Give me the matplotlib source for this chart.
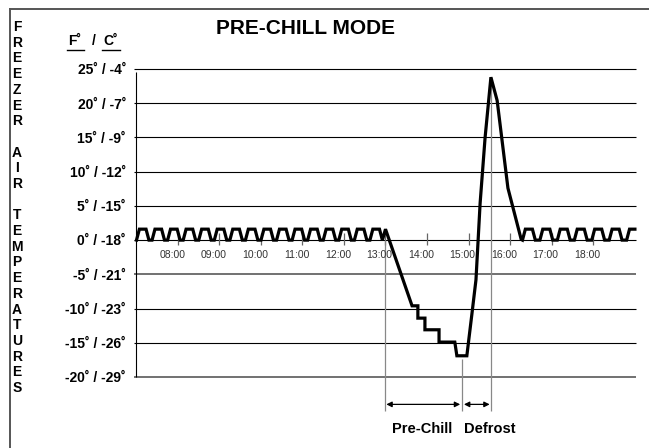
import matplotlib
matplotlib.use("Agg")
import matplotlib.pyplot as plt
from matplotlib.lines import Line2D
from matplotlib.transforms import blended_transform_factory

plt.rcParams['font.family'] = ['Liberation Sans', 'DejaVu Sans']

# freezer air temperature (deg F) against time of day (hours)
idle_am_times = [7.000, 7.070, 7.230, 7.300, 7.375, 7.445, 7.605, 7.675,
                 7.750, 7.820, 7.980, 8.050, 8.125, 8.195, 8.355, 8.425,
                 8.500, 8.570, 8.730, 8.800, 8.875, 8.945, 9.105, 9.175,
                 9.250, 9.320, 9.480, 9.550, 9.625, 9.695, 9.855, 9.925,
                 10.000, 10.070, 10.230, 10.300, 10.375, 10.445, 10.605, 10.675,
                 10.750, 10.820, 10.980, 11.050, 11.125, 11.195, 11.355, 11.425,
                 11.500, 11.570, 11.730, 11.800, 11.875, 11.945, 12.105, 12.175,
                 12.250, 12.320, 12.480, 12.550, 12.625, 12.695, 12.855, 12.925]
idle_am_temps = [0, 1.6, 1.6, 0] * 16

prechill_times = [13.00, 13.64, 13.78, 13.78, 13.95, 13.95, 14.29, 14.29,
                  14.67, 14.72, 14.96]
prechill_temps = [1.6, -9.6, -9.6, -11.4, -11.4, -13.1, -13.1, -14.9,
                  -14.9, -16.9, -16.9]

defrost_times = [15.08, 15.18, 15.28, 15.40, 15.54, 15.69, 15.95, 16.27]
defrost_temps = [-10.9, -5.8, 5.4, 15.0, 23.8, 20.4, 7.6, 0.1]

idle_pm_times = [16.30, 16.37, 16.54, 16.61, 16.72, 16.79, 16.96, 17.03,
                 17.14, 17.21, 17.38, 17.45, 17.55, 17.62, 17.79, 17.86,
                 17.97, 18.04, 18.21, 18.28, 18.39, 18.46, 18.63, 18.70,
                 18.81, 18.88, 19.01]
idle_pm_temps = [0, 1.6, 1.6, 0] * 6 + [0, 1.6, 1.6]

hours = [8, 9, 10, 11, 12, 13, 14, 15, 16, 17, 18]
hour_labels = ["08:00", "09:00", "10:00", "11:00", "12:00", "13:00",
               "14:00", "15:00", "16:00", "17:00", "18:00"]

levels_f = [25, 20, 15, 10, 5, 0, -5, -10, -15, -20]
levels_c = [-4, -7, -9, -12, -15, -18, -21, -23, -26, -29]

prechill_start = 13.00
prechill_end = 14.84
defrost_end = 15.54

times = idle_am_times + prechill_times + defrost_times + idle_pm_times
temps = idle_am_temps + prechill_temps + defrost_temps + idle_pm_temps

fig = plt.figure(figsize=(6.49, 4.48), dpi=100)
W, H = 649, 448
ax = fig.add_axes([134 / W, 1 - 377 / H, (636 - 134) / W, (377 - 69) / H])
x0, x1 = 6.94, 19.036
ax.set_xlim(x0, x1)
ax.set_ylim(-20, 25)
ax.axis("off")

# grid lines
for lv in levels_f:
    if lv in (-5, -20):
        ax.hlines(lv, x0, x1, color="#666666", lw=1.3, clip_on=False)
    else:
        ax.hlines(lv, x0, x1, color="black", lw=0.8, clip_on=False)
ax.vlines(7.0, -20, 24.6, color="black", lw=0.8, clip_on=False)

# hour ticks and labels
ax.vlines(hours, -0.7, 1.0, color="#666666", lw=0.9, clip_on=False)
for h, lab in zip(hours, hour_labels):
    ax.text(h - 0.14, -2.2, lab, ha="center", va="center", fontsize=7.5,
            color="#333333")

# phase markers
ax.vlines(prechill_start, -25.0, 0, color="#888888", lw=0.9, clip_on=False)
ax.vlines(prechill_end, -25.0, -17.4, color="#888888", lw=0.9, clip_on=False)
ax.vlines(defrost_end, -25.0, 23.8, color="#888888", lw=0.9, clip_on=False)

# temperature curve
ax.plot(times, temps, color="black", lw=2.3, solid_joinstyle="miter",
        clip_on=False, zorder=5)

arrow = dict(arrowstyle="<|-|>", color="black", lw=0.9, mutation_scale=8,
             shrinkA=0, shrinkB=0)
ax.annotate("", xy=(prechill_end - 0.04, -24.0), xytext=(prechill_start + 0.02, -24.0),
            arrowprops=arrow, annotation_clip=False)
ax.annotate("", xy=(defrost_end - 0.03, -24.0), xytext=(prechill_end + 0.05, -24.0),
            arrowprops=arrow, annotation_clip=False)
ax.text(13.88, -27.6, "Pre-Chill", ha="center", va="center", fontsize=10.5,
        fontweight="bold")
ax.text(15.52, -27.6, "Defrost", ha="center", va="center", fontsize=10.5,
        fontweight="bold")

# y labels
tr = blended_transform_factory(fig.transFigure, ax.transData)
for f, c in zip(levels_f, levels_c):
    ax.text(126 / W, f - 0.2, f"{f}˚ / {c}˚", transform=tr, ha="right",
            va="center", fontsize=10, fontweight="bold")

# header F / C
fig.text(75 / W, 1 - 41 / H, "F˚", ha="center", va="center", fontsize=10,
         fontweight="bold")
fig.text(94 / W, 1 - 41 / H, "/", ha="center", va="center", fontsize=10,
         fontweight="bold")
fig.text(111 / W, 1 - 41 / H, "C˚", ha="center", va="center", fontsize=10,
         fontweight="bold")
fig.add_artist(Line2D([67 / W, 84 / W], [1 - 50 / H, 1 - 50 / H], color="black",
                      lw=1.0, transform=fig.transFigure))
fig.add_artist(Line2D([102 / W, 120 / W], [1 - 50 / H, 1 - 50 / H], color="black",
                      lw=1.0, transform=fig.transFigure))

# vertical axis title
words = ["FREEZER", "AIR", "TEMPERATURES"]
slot = 0
for word in words:
    for ch in word:
        fig.text(17 / W, 1 - (27 + slot * 15.7) / H, ch, ha="center", va="center",
                 fontsize=10, fontweight="bold")
        slot += 1
    slot += 1

fig.text(305 / W, 1 - 29 / H, "PRE-CHILL MODE", ha="center", va="center",
         fontsize=15, fontweight="bold")

# frame
fig.add_artist(Line2D([10 / W, 10 / W], [0, 1 - 9 / H], color="#555555", lw=1.4,
                      transform=fig.transFigure))
fig.add_artist(Line2D([10 / W, 1], [1 - 9 / H, 1 - 9 / H], color="#555555", lw=1.4,
                      transform=fig.transFigure))

fig.savefig("out.png", dpi=100)
